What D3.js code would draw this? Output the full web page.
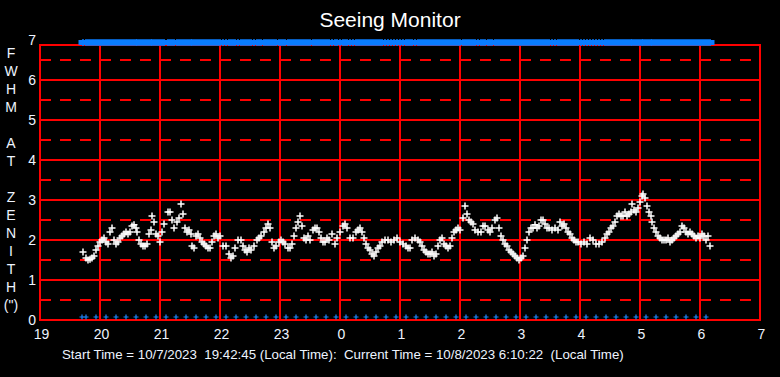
<!DOCTYPE html>
<html>
<head>
<meta charset="utf-8">
<script src="https://cdn.jsdelivr.net/npm/d3@7"></script>
<style>
  html, body { margin: 0; padding: 0; background: #000; }
  svg { display: block; font-family: Arial, "Liberation Sans", sans-serif; }
</style>
</head>
<body>
<div id="chart"></div>
<script>
// minutes after 19:00 (local) and FWHM at zenith (arcsec)
var obsMinutes = [43,46,48,50,52,54,56,58,60,62,64,66,68,70,72,74,76,78,80,82,84,86,88,90,92,94,96,97,99,101,
  103,105,107,109,111,112,114,116,118,120,122,124,128,130,132,134,137,139,141,143,145,147,149,151,152,154,156,158,160,162,
  164,166,168,170,172,174,176,178,180,183,186,189,191,193,195,198,201,203,205,207,209,211,214,217,219,221,224,226,228,230,
  232,234,236,239,241,243,245,248,250,252,254,256,258,260,262,264,266,268,270,273,275,277,279,281,283,285,287,289,292,295,
  297,300,303,305,307,310,313,316,318,320,322,324,326,328,330,332,334,336,338,340,342,345,348,351,354,357,360,363,366,368,
  370,372,375,378,380,382,384,386,388,390,392,394,396,398,400,402,404,406,408,410,412,414,416,418,420,423,425,427,429,431,
  433,435,438,441,443,445,448,450,452,455,457,459,461,463,465,467,469,471,473,475,477,479,481,483,485,487,489,491,493,495,
  497,499,501,503,505,507,509,512,515,518,520,522,524,526,528,530,532,534,536,538,541,544,547,550,553,556,559,562,565,567,
  569,571,573,575,577,579,581,583,585,587,589,591,592,594,596,598,600,602,603,605,607,609,611,612,614,616,618,620,622,624,
  626,628,630,632,634,636,638,640,642,644,646,648,650,652,654,656,658,660,662,664,666,668,670];
var fwhm = [1.7,1.55,1.5,1.52,1.55,1.6,1.75,1.85,1.95,2.0,2.05,1.95,1.9,2.2,2.3,2.0,1.9,1.95,2.05,2.1,2.15,2.2,2.15,2.2,2.35,2.38,2.3,2.2,2.0,1.9,
  1.85,1.85,1.9,2.15,2.25,2.6,2.45,2.15,2.1,1.95,2.2,2.4,2.7,2.7,2.5,2.3,2.45,2.55,2.9,2.65,2.3,2.2,2.25,2.15,1.85,1.8,2.1,2.15,2.05,1.95,
  1.9,1.85,1.8,1.8,1.95,2.1,2.15,2.05,2.1,1.85,1.85,1.65,1.55,1.6,1.8,2.0,2.0,1.85,1.75,1.7,1.8,1.75,1.85,2.0,2.05,2.1,2.2,2.3,2.4,2.3,
  1.95,1.8,1.85,1.95,2.0,1.95,1.9,1.8,1.8,1.9,2.1,2.3,2.45,2.6,2.35,2.05,2.0,2.1,2.0,2.25,2.3,2.3,2.2,2.05,1.95,1.95,2.05,2.0,2.15,1.9,
  2.05,2.2,2.35,2.4,2.3,2.05,2.05,2.2,2.25,2.3,2.2,2.05,1.9,1.8,1.75,1.65,1.6,1.7,1.8,1.85,1.95,2.0,2.0,1.95,2.0,2.05,1.95,1.9,1.85,1.8,
  1.8,2.0,2.05,2.0,1.95,1.85,1.75,1.7,1.65,1.65,1.7,1.6,1.65,1.85,2.0,2.05,1.9,1.85,1.8,1.85,2.05,2.2,2.25,2.3,2.25,2.55,2.85,2.65,2.5,2.45,
  2.4,2.25,2.2,2.2,2.35,2.35,2.25,2.2,2.3,2.5,2.55,2.3,2.1,2.0,1.9,1.85,1.75,1.7,1.65,1.6,1.55,1.5,1.55,1.6,1.8,2.0,2.2,2.3,2.3,2.38,
  2.3,2.35,2.5,2.5,2.4,2.3,2.3,2.25,2.3,2.25,2.45,2.35,2.4,2.3,2.2,2.15,2.05,2.0,1.95,1.95,1.9,1.95,1.9,2.05,2.0,1.9,1.9,1.95,2.05,2.15,
  2.2,2.3,2.35,2.45,2.6,2.65,2.6,2.6,2.7,2.6,2.65,2.7,2.9,2.75,2.7,2.8,2.95,3.1,3.15,3.05,2.85,2.7,2.6,2.45,2.3,2.2,2.1,2.05,2.0,2.0,
  2.0,2.05,1.95,2.0,2.05,2.1,2.15,2.2,2.35,2.3,2.2,2.15,2.2,2.15,2.1,2.05,2.1,2.05,2.15,2.1,2.0,2.1,1.85];
// blue marks along the bottom edge (minutes after 19:00)
var baseMarks = [42,46,56,66,76,86,96,106,116,126,136,146,156,166,176,186,196,206,216,226,236,246,256,266,276,286,296,306,316,326,
  336,346,356,366,376,386,396,406,416,426,436,446,456,466,476,486,496,506,516,526,536,546,556,566,576,586,596,606,616,626,
  636,646,656,666];
var hourLabels = ['19','20','21','22','23','0','1','2','3','4','5','6','7'];
var yTicks = [0,1,2,3,4,5,6,7];
var yHalfTicks = [0.5,1.5,2.5,3.5,4.5,5.5,6.5];
var axisTitle = ['F','W','H','M','','A','T','','Z','E','N','I','T','H','(")'];

var W = 780, H = 377;
var svg = d3.select('#chart').append('svg').attr('width',W).attr('height',H);
svg.append('rect').attr('width',W).attr('height',H).attr('fill','#000');

var x = d3.scaleLinear().domain([0,720]).range([40,760]);
var y = d3.scaleLinear().domain([0,7]).range([320,40]);
var plotTop = 45, plotBottom = 320;

svg.append('text').attr('x',390).attr('y',27).attr('text-anchor','middle')
  .attr('fill','#fff').attr('font-size','21px').text('Seeing Monitor');

var grid = svg.append('g').attr('shape-rendering','crispEdges');
grid.selectAll('line.half').data(yHalfTicks).join('line').attr('class','half')
  .attr('x1',x(0)).attr('x2',x(720)).attr('y1',function(d){ return y(d); }).attr('y2',function(d){ return y(d); })
  .attr('stroke','#ff0000').attr('stroke-width',1.5).attr('stroke-dasharray','11,9');
grid.selectAll('line.whole').data(yTicks.slice(1,7)).join('line').attr('class','whole')
  .attr('x1',x(0)).attr('x2',x(720)).attr('y1',function(d){ return y(d); }).attr('y2',function(d){ return y(d); })
  .attr('stroke','#ff0000').attr('stroke-width',1.5);
grid.selectAll('line.hour').data(d3.range(60,720,60)).join('line').attr('class','hour')
  .attr('x1',function(d){ return x(d); }).attr('x2',function(d){ return x(d); }).attr('y1',plotTop).attr('y2',plotBottom)
  .attr('stroke','#ff0000').attr('stroke-width',1.5);
grid.append('rect').attr('x',x(0)).attr('y',plotTop).attr('width',x(720)-x(0)).attr('height',plotBottom-plotTop)
  .attr('fill','none').attr('stroke','#ff0000').attr('stroke-width',1.5);

// axes (drawn with d3 axes, domain/ticks hidden)
var xAxis = d3.axisBottom(x).tickValues(d3.range(0,721,60)).tickSize(0).tickPadding(9)
  .tickFormat(function(d,i){ return hourLabels[i]; });
var gx = svg.append('g').attr('transform','translate(1,'+plotBottom+')').call(xAxis);
gx.select('.domain').remove();
gx.selectAll('text').attr('fill','#eef4ff').attr('font-size','14px').attr('font-family','Arial, "Liberation Sans", sans-serif');

var yAxis = d3.axisLeft(y).tickValues(yTicks).tickSize(0).tickPadding(0).tickFormat(d3.format('d'));
var gy = svg.append('g').attr('transform','translate(36,0)').call(yAxis);
gy.select('.domain').remove();
gy.selectAll('text').attr('fill','#eef4ff').attr('font-size','14px').attr('font-family','Arial, "Liberation Sans", sans-serif');

svg.append('g').selectAll('text').data(axisTitle).join('text')
  .attr('x',11).attr('y',function(d,i){ return 58+18*i; }).attr('text-anchor','middle')
  .attr('fill','#eef4ff').attr('font-size','14px').text(function(d){ return d; });

function cross(sx, sy){
  return 'M'+(-sx)+',0H'+sx+'M0,'+(-sy)+'V'+sy;
}

// top band of blue markers
var topBand = svg.append('g');
topBand.selectAll('path').data(obsMinutes).join('path')
  .attr('transform',function(d){ return 'translate('+x(d)+',42.5)'; })
  .attr('d','M-4.5,0H4.5').attr('stroke','#0a7cff').attr('stroke-width',5).attr('fill','none');
topBand.selectAll('path.v').data(obsMinutes).join('path').attr('class','v')
  .attr('transform',function(d){ return 'translate('+x(d)+',42.5)'; })
  .attr('d','M0,-3.5V3.5').attr('stroke','#0a7cff').attr('stroke-width',1.5).attr('fill','none');

// bottom markers
svg.append('g').selectAll('path').data(baseMarks).join('path')
  .attr('transform',function(d){ return 'translate('+x(d)+','+(plotBottom-3)+')'; })
  .attr('d',cross(2.5,2.5)).attr('stroke','#1e88ff').attr('stroke-width',1.2).attr('fill','none');

// seeing points
var pts = obsMinutes.map(function(m,i){ return {m:m, v:fwhm[i]}; });
svg.append('g').selectAll('path').data(pts).join('path')
  .attr('transform',function(d){ return 'translate('+x(d.m)+','+y(d.v)+')'; })
  .attr('d',cross(3.5,3.5)).attr('stroke','#fff').attr('stroke-width',1.5).attr('fill','none');

svg.append('text').attr('x',62).attr('y',359).attr('fill','#eef4ff').attr('font-size','13.3px')
  .attr('xml:space','preserve')
  .text('Start Time = 10/7/2023  19:42:45 (Local Time):  Current Time = 10/8/2023 6:10:22  (Local Time)');
</script>
</body>
</html>
